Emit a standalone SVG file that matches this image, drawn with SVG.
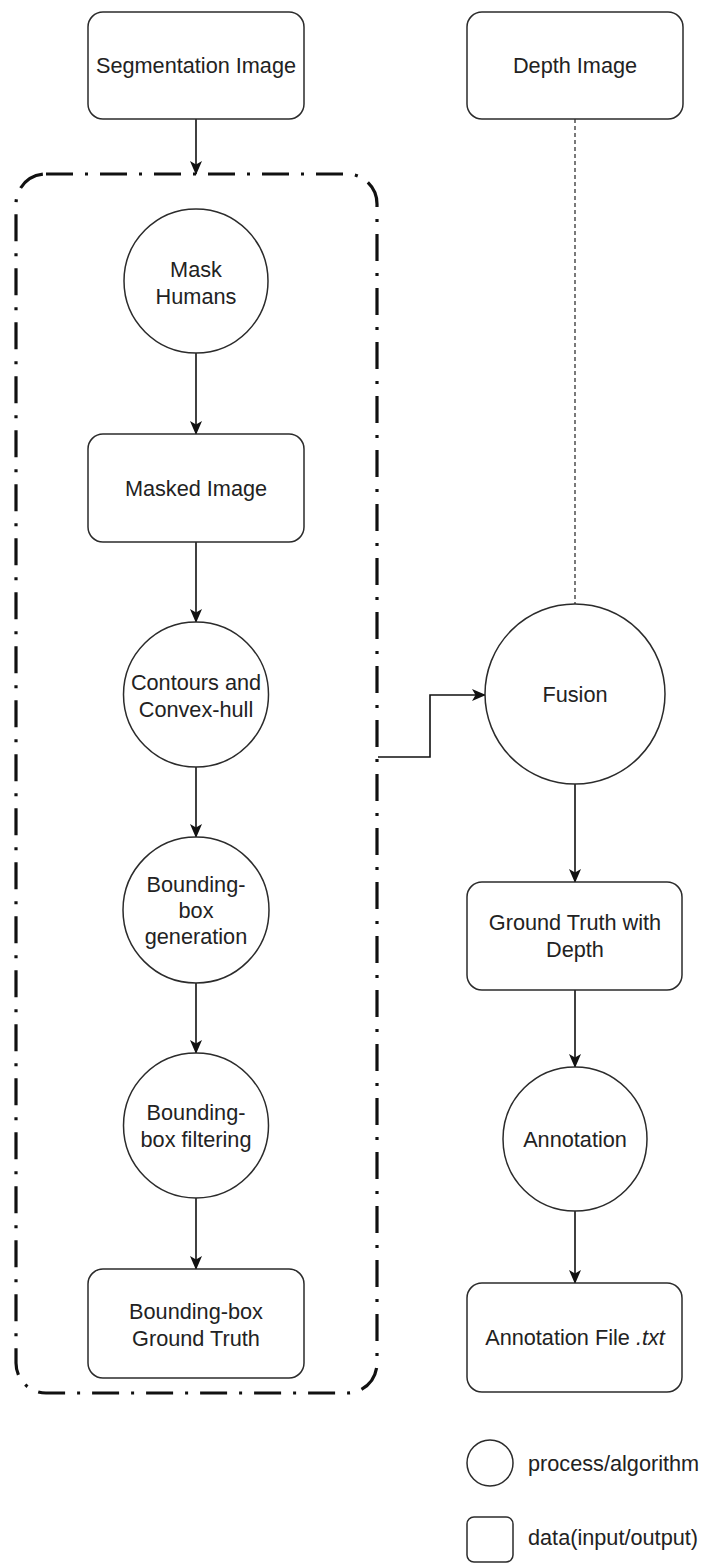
<svg xmlns="http://www.w3.org/2000/svg" width="705" height="1564" viewBox="0 0 705 1564">
  <style>
    .box { fill: #ffffff; stroke: #2b2b2b; stroke-width: 1.5; }
    .proc { fill: #ffffff; stroke: #2b2b2b; stroke-width: 1.5; }
    .lbl { font-family: "Liberation Sans", Arial, sans-serif; font-size: 21.7px; fill: #222222; text-anchor: middle; }
    .leg { font-family: "Liberation Sans", Arial, sans-serif; font-size: 21.7px; fill: #222222; }
    .edge { fill: none; stroke: #111111; stroke-width: 1.6; }
    .group { fill: none; stroke: #111111; stroke-width: 3.2; stroke-dasharray: 27 12 3 12; }
  </style>
  <defs>
    <marker id="arrow" viewBox="0 0 14 14" refX="13" refY="7" markerWidth="14" markerHeight="14" markerUnits="userSpaceOnUse" orient="auto">
      <path d="M0,1 L14,7 L0,13 L3.5,7 Z" fill="#111111"/>
    </marker>
  </defs>

  <!-- dash-dot grouping frame around the segmentation pipeline -->
  <g id="pipeline-group">
    <rect class="group" x="16" y="174" width="361" height="1219" rx="30" ry="30"/>
  </g>

  <g id="connectors">
    <line class="edge" x1="196" y1="119" x2="196" y2="174" marker-end="url(#arrow)"/>
    <line class="edge" x1="196" y1="353" x2="196" y2="434" marker-end="url(#arrow)"/>
    <line class="edge" x1="196" y1="542" x2="196" y2="622" marker-end="url(#arrow)"/>
    <line class="edge" x1="196" y1="767" x2="196" y2="837" marker-end="url(#arrow)"/>
    <line class="edge" x1="196" y1="983" x2="196" y2="1053" marker-end="url(#arrow)"/>
    <line class="edge" x1="196" y1="1198" x2="196" y2="1269" marker-end="url(#arrow)"/>
    <line x1="575" y1="119" x2="575" y2="604" stroke="#222222" stroke-width="1.2" stroke-dasharray="4 3"/>
    <polyline class="edge" points="378,757 430,757 430,695 485,695" marker-end="url(#arrow)"/>
    <line class="edge" x1="575" y1="784" x2="575" y2="882" marker-end="url(#arrow)"/>
    <line class="edge" x1="575" y1="990" x2="575" y2="1067" marker-end="url(#arrow)"/>
    <line class="edge" x1="575" y1="1211" x2="575" y2="1283" marker-end="url(#arrow)"/>
  </g>

  <g id="segmentation-image">
    <rect class="box" x="88" y="12" width="216" height="107" rx="15" ry="15"/>
    <text class="lbl" x="196" y="73">Segmentation Image</text>
  </g>

  <g id="depth-image">
    <rect class="box" x="467" y="12" width="216" height="107" rx="15" ry="15"/>
    <text class="lbl" x="575" y="73">Depth Image</text>
  </g>

  <g id="mask-humans">
    <circle class="proc" cx="196" cy="281" r="72"/>
    <text class="lbl" x="196" y="277">Mask</text>
    <text class="lbl" x="196" y="304">Humans</text>
  </g>

  <g id="masked-image">
    <rect class="box" x="88" y="434" width="216" height="108" rx="15" ry="15"/>
    <text class="lbl" x="196" y="496">Masked Image</text>
  </g>

  <g id="contours">
    <circle class="proc" cx="196" cy="694.5" r="72.5"/>
    <text class="lbl" x="196" y="690">Contours and</text>
    <text class="lbl" x="196" y="717">Convex-hull</text>
  </g>

  <g id="bbox-generation">
    <circle class="proc" cx="196" cy="910" r="73"/>
    <text class="lbl" x="196" y="892">Bounding-</text>
    <text class="lbl" x="196" y="918">box</text>
    <text class="lbl" x="196" y="944">generation</text>
  </g>

  <g id="bbox-filtering">
    <circle class="proc" cx="196" cy="1125.5" r="72.5"/>
    <text class="lbl" x="196" y="1120">Bounding-</text>
    <text class="lbl" x="196" y="1147">box filtering</text>
  </g>

  <g id="bbox-ground-truth">
    <rect class="box" x="88" y="1269" width="216" height="109" rx="15" ry="15"/>
    <text class="lbl" x="196" y="1319">Bounding-box</text>
    <text class="lbl" x="196" y="1346">Ground Truth</text>
  </g>

  <g id="fusion">
    <circle class="proc" cx="575" cy="694" r="90"/>
    <text class="lbl" x="575" y="702">Fusion</text>
  </g>

  <g id="ground-truth-depth">
    <rect class="box" x="467" y="882" width="215" height="108" rx="15" ry="15"/>
    <text class="lbl" x="575" y="930">Ground Truth with</text>
    <text class="lbl" x="575" y="957">Depth</text>
  </g>

  <g id="annotation">
    <circle class="proc" cx="575" cy="1139" r="72"/>
    <text class="lbl" x="575" y="1147">Annotation</text>
  </g>

  <g id="annotation-file">
    <rect class="box" x="467" y="1283" width="215" height="109" rx="15" ry="15"/>
    <text class="lbl" x="575" y="1345">Annotation File <tspan font-style="italic">.txt</tspan></text>
  </g>

  <g id="legend">
    <circle class="proc" cx="490" cy="1463" r="23"/>
    <text class="leg" x="528" y="1471">process/algorithm</text>
    <rect class="box" x="467" y="1517" width="46" height="45" rx="7" ry="7"/>
    <text class="leg" x="528" y="1545">data(input/output)</text>
  </g>
</svg>
